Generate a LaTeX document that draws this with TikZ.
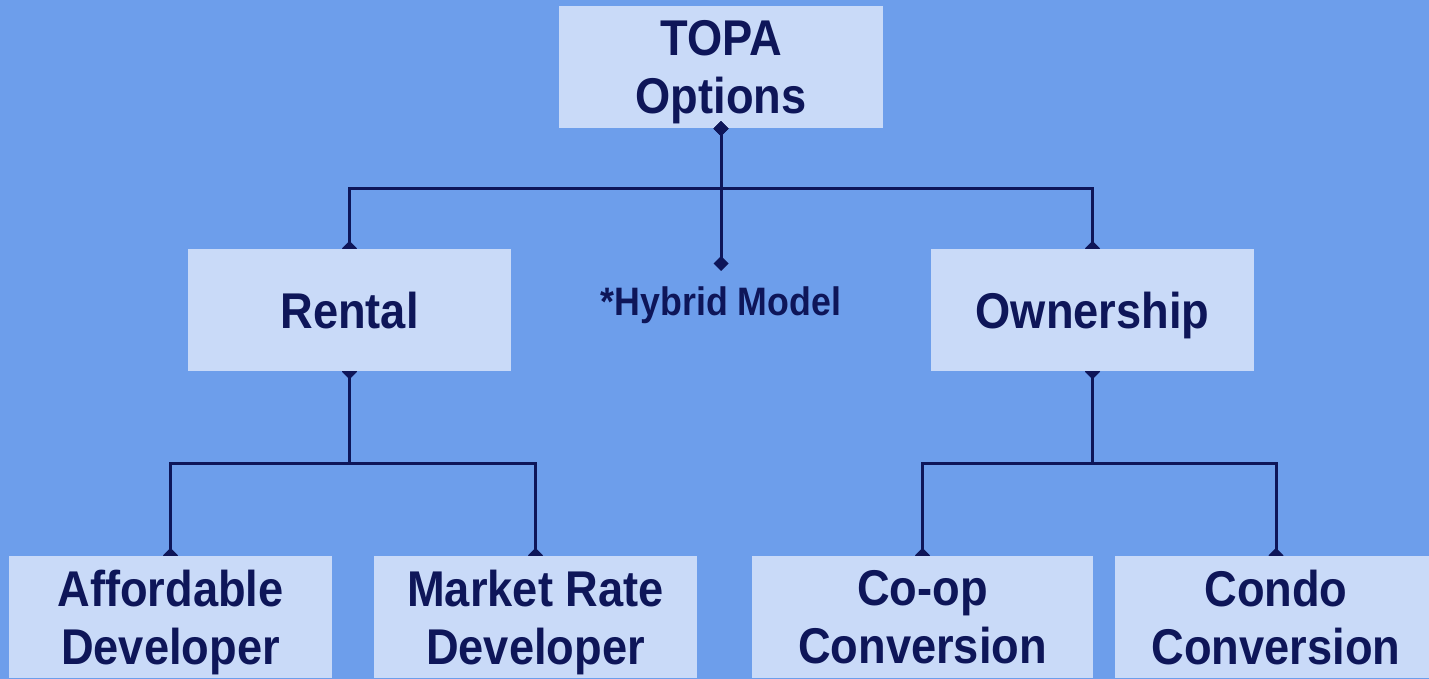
\documentclass[tikz,border=0pt]{standalone}
\usepackage{fontspec}
\setmainfont{Liberation Sans}[FakeStretch=0.9]
\usetikzlibrary{arrows.meta,calc}

\definecolor{sky}{HTML}{6D9EEB}
\definecolor{pale}{HTML}{C9DAF8}
\definecolor{navy}{HTML}{0E1659}

\pgfdeclarelayer{back}
\pgfdeclarelayer{links}
\pgfsetlayers{back,links,main}

\begin{document}
\begin{tikzpicture}[
	box/.style = {rectangle, fill=pale, text=navy, align=center, inner sep=0pt,
		minimum width=3.23cm, minimum height=1.22cm, text depth=0pt,
		font=\fontsize{14.3}{16.6}\selectfont\bfseries},
	note/.style = {text=navy, inner sep=0pt, font=\fontsize{11.3}{13}\selectfont\bfseries},
	link/.style = {navy, line width=0.03cm,
		{Diamond[width=0.15cm,length=0.15cm]}-{Diamond[width=0.15cm,length=0.15cm]},
		shorten <=-0.075cm, shorten >=-0.075cm},
	elbow/.style = {to path={|- ($(\tikztostart)!.5!(\tikztotarget)$) -| (\tikztotarget)}}]

	\useasboundingbox (0,0) rectangle (14.29,-6.79);

	% top box sits under the links, so its diamonds show in full
	\begin{pgfonlayer}{back}
		\fill[sky] (0,0) rectangle (14.29,-6.79);
		\node[box, minimum width=3.24cm] (topa) at (7.21,-0.67) {TOPA\\Options};
	\end{pgfonlayer}

	\node[box] (rental) at (3.495,-3.10) {Rental};
	\node[box] (owner) at (10.925,-3.10) {Ownership};
	\node[note, anchor=base] (hybrid) at (7.21,-3.16) {*Hybrid Model};
	\coordinate (hybtip) at (7.21,-2.71);

	\node[box] (afford) at (1.705,-6.17) {Affordable\\Developer};
	\node[box] (market) at (5.355,-6.17) {Market Rate\\Developer};
	\node[box, minimum width=3.41cm] (coop) at (9.225,-6.17) {Co-op\\Conversion};
	\node[box, minimum width=3.22cm] (condo) at (12.76,-6.17) {Condo\\Conversion};

	\begin{pgfonlayer}{links}
		\path[link]
		(topa.south) edge[elbow] (rental.north)
		edge[elbow] (owner.north)
		edge[shorten >=0pt] (hybtip)
		(rental.south) edge[elbow] (afford.north)
		edge[elbow] (market.north)
		(owner.south) edge[elbow] (coop.north)
		edge[elbow] (condo.north);
	\end{pgfonlayer}
\end{tikzpicture}
\end{document}
